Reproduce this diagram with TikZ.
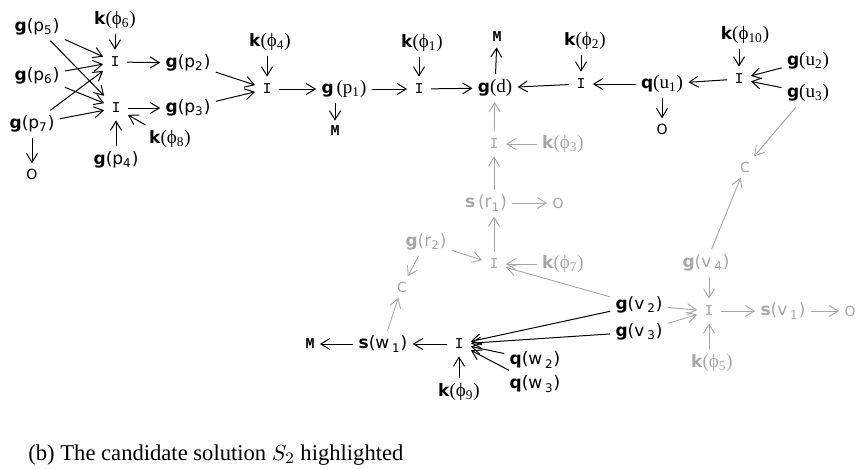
\documentclass[tikz,border=0pt]{standalone}
\usepackage{fontspec}
\setsansfont{DejaVu Sans}
\newfontfamily\monofont{Liberation Mono}
\newfontfamily\capfont{Liberation Serif}
\usetikzlibrary{arrows.meta}
\newcommand{\fsans}[3][]{{\sffamily\bfseries #2}#1\textsf{(#3)}}
\newcommand{\fser}[3][]{{\sffamily\bfseries #2}#1{\capfont\fontsize{9.5}{10}\selectfont(#3)}}
\begin{document}
\begin{tikzpicture}[
x=0.5pt, y=-0.5pt,
node distance=22pt,
lbl/.style={font=\fontsize{8.5}{10}\selectfont, inner sep=2.5pt},
hub/.style={font=\monofont\fontsize{7.5}{9}\selectfont, inner sep=3.5pt},
endm/.style={font=\monofont\bfseries\fontsize{7.5}{9}\selectfont, inner sep=2.5pt},
endo/.style={font=\sffamily\fontsize{7}{8}\selectfont, inner sep=2.5pt},
faint/.style={gray!70, line width=0.45pt},
arrow/.style={-{Straight Barb[length=4.5pt,width=5.5pt]}, line width=0.5pt},
capt/.style={font=\capfont\fontsize{11.3}{13}\selectfont, inner sep=0pt}
]
\useasboundingbox (0,0) rectangle (855,468);
\node[hub] (ia) at (115,62) {I};
\node[hub] (ib) at (116,108) {I};
\node[lbl, node distance=21pt, above of=ia] (kf6) {\fser{k}{ϕ\textsubscript{6}}};
\node[lbl] (gp5) at (37,27) {\fsans{g}{p\textsubscript{5}}};
\node[lbl] (gp6) at (37,76) {\fsans{g}{p\textsubscript{6}}};
\node[lbl] (gp7) at (32,124) {\fsans{g}{p\textsubscript{7}}};
\node[endo, node distance=25pt, below of=gp7] (o7) {O};
\node[lbl, node distance=26pt, below of=ib] (gp4) {\fsans{g}{p\textsubscript{4}}};
\node[lbl] (kf8) at (170,139) {\fser{k}{ϕ\textsubscript{8}}};
\node[lbl] (gp2) at (188,63) {\fsans{g}{p\textsubscript{2}}};
\node[lbl] (gp3) at (188,108) {\fsans{g}{p\textsubscript{3}}};
\node[hub] (ic) at (267,89) {I};
\node[lbl, node distance=23.5pt, above of=ic, xshift=1.5pt] (kf4) {\fser{k}{ϕ\textsubscript{4}}};
\node[lbl] (gp1) at (344,89) {\fser[\,]{g}{p\textsubscript{1}}};
\node[endm, node distance=21pt, below of=gp1, xshift=-4.5pt] (m1) {M};
\node[hub] (id) at (419,89) {I};
\node[lbl, node distance=23pt, above of=id, xshift=1.5pt] (kf1) {\fser{k}{ϕ\textsubscript{1}}};
\node[lbl] (gd) at (495,88) {\fser{g}{d}};
\node[endm, node distance=25.5pt, above of=gd, xshift=1pt] (md) {M};
\node[hub] (ie) at (581,84) {I};
\node[lbl, node distance=21.5pt, above of=ie, xshift=2pt] (kf2) {\fser{k}{ϕ\textsubscript{2}}};
\node[lbl] (qu1) at (662,84) {\fser{q}{u\textsubscript{1}}};
\node[endo, node distance=22.5pt, below of=qu1] (ou) {O};
\node[hub] (if) at (739,79) {I};
\node[lbl, node distance=22pt, above of=if, xshift=3pt] (kf10) {\fser{k}{ϕ\textsubscript{10}}};
\node[lbl] (gu2) at (808,61) {\fser{g}{u\textsubscript{2}}};
\node[lbl] (gu3) at (808,93) {\fser{g}{u\textsubscript{3}}};
\node[hub, faint] (ig) at (494,144) {I};
\node[lbl, faint, node distance=34.5pt, right of=ig] (kf3) {\fser{k}{ϕ\textsubscript{3}}};
\node[lbl, faint, node distance=29.5pt, below of=ig, xshift=-4pt] (sr1) {\fsans[\,]{s}{r\textsubscript{1}}};
\node[endo, faint, node distance=36pt, right of=sr1] (or) {O};
\node[hub, faint] (ih) at (494,264) {I};
\node[lbl, faint, node distance=34.5pt, right of=ih] (kf7) {\fser{k}{ϕ\textsubscript{7}}};
\node[lbl, faint] (gr2) at (426,242) {\fsans{g}{r\textsubscript{2}}};
\node[endo, faint] (cl) at (402,287) {C};
\node[endo, faint] (cr) at (745,167) {C};
\node[hub, faint] (ii) at (709,311) {I};
\node[lbl, faint, node distance=24pt, above of=ii, xshift=-1.5pt] (gv4) {\fsans{g}{v\,\textsubscript{4}}};
\node[lbl, faint, node distance=26pt, below of=ii, xshift=1.5pt] (kf5) {\fser{k}{ϕ\textsubscript{5}}};
\node[lbl, faint, node distance=37pt, right of=ii] (sv1) {\fsans{s}{v\,\textsubscript{1}}};
\node[endo, faint, node distance=33.5pt, right of=sv1] (ov) {O};
\node[lbl] (gv2) at (639,305) {\fsans{g}{v\,\textsubscript{2}}};
\node[lbl] (gv3) at (639,332) {\fsans{g}{v\,\textsubscript{3}}};
\node[hub] (ij) at (459,344) {I};
\node[lbl, node distance=24pt, below of=ij] (kf9) {\fser{k}{ϕ\textsubscript{9}}};
\node[lbl, node distance=38pt, left of=ij] (sw1) {\fsans{s}{w\,\textsubscript{1}}};
\node[endm, node distance=36.5pt, left of=sw1] (mw) {M};
\node[lbl] (qw2) at (535,360) {\fsans{q}{w\,\textsubscript{2}}};
\node[lbl] (qw3) at (535,384) {\fsans{q}{w\,\textsubscript{3}}};
\node[capt, anchor=west] (caption) at (28,455) {(b) The candidate solution $S_2$ highlighted};
\draw[arrow] (gp5) -- (ia);
\draw[arrow] (gp5) -- (ib);
\draw[arrow] (gp6) -- (ia);
\draw[arrow] (gp6) -- (ib);
\draw[arrow] (gp7) -- (ia);
\draw[arrow] (gp7) -- (ib);
\draw[arrow] (gp7) -- (o7);
\draw[arrow] (kf6) -- (ia);
\draw[arrow] (gp4) -- (ib);
\draw[arrow] (kf8) -- (ib);
\draw[arrow] (ia) -- (gp2);
\draw[arrow] (ib) -- (gp3);
\draw[arrow] (gp2) -- (ic);
\draw[arrow] (gp3) -- (ic);
\draw[arrow] (kf4.south -| ic) -- (ic);
\draw[arrow] (ic) -- (gp1);
\draw[arrow] (gp1.south -| m1) -- (m1);
\draw[arrow] (gp1) -- (id);
\draw[arrow] (kf1.south -| id) -- (id);
\draw[arrow] (id) -- (gd);
\draw[arrow] (gd) -- (md);
\draw[arrow] (ie) -- (gd);
\draw[arrow] (kf2.south -| ie) -- (ie);
\draw[arrow] (qu1) -- (ie);
\draw[arrow] (qu1) -- (ou);
\draw[arrow] (if) -- (qu1);
\draw[arrow] (kf10.south -| if) -- (if);
\draw[arrow] (gu2) -- (if);
\draw[arrow] (gu3) -- (if);
\draw[arrow, faint] (ig) -- (gd);
\draw[arrow, faint] (kf3) -- (ig);
\draw[arrow, faint] (sr1.north -| ig) -- (ig);
\draw[arrow, faint] (sr1) -- (or);
\draw[arrow, faint] (ih) -- (ih |- sr1.south);
\draw[arrow, faint] (kf7) -- (ih);
\draw[arrow, faint] (gr2) -- (ih);
\draw[arrow, faint] (gr2) -- (cl);
\draw[arrow, faint] (sw1) -- (cl);
\draw[arrow, faint] (gv2) -- (ih);
\draw[arrow, faint] (gu3) -- (cr);
\draw[arrow, faint] (gv4) -- (cr);
\draw[arrow, faint] (gv4.south -| ii) -- (ii);
\draw[arrow, faint] (gv2) -- (ii);
\draw[arrow, faint] (gv3) -- (ii);
\draw[arrow, faint] (kf5.north -| ii) -- (ii);
\draw[arrow, faint] (ii) -- (sv1);
\draw[arrow, faint] (sv1) -- (ov);
\draw[arrow] (gv2) -- (ij);
\draw[arrow] (gv3) -- (ij);
\draw[arrow] (qw2) -- (ij);
\draw[arrow] (qw3) -- (ij);
\draw[arrow] (kf9) -- (ij);
\draw[arrow] (ij) -- (sw1);
\draw[arrow] (sw1) -- (mw);
\end{tikzpicture}
\end{document}
